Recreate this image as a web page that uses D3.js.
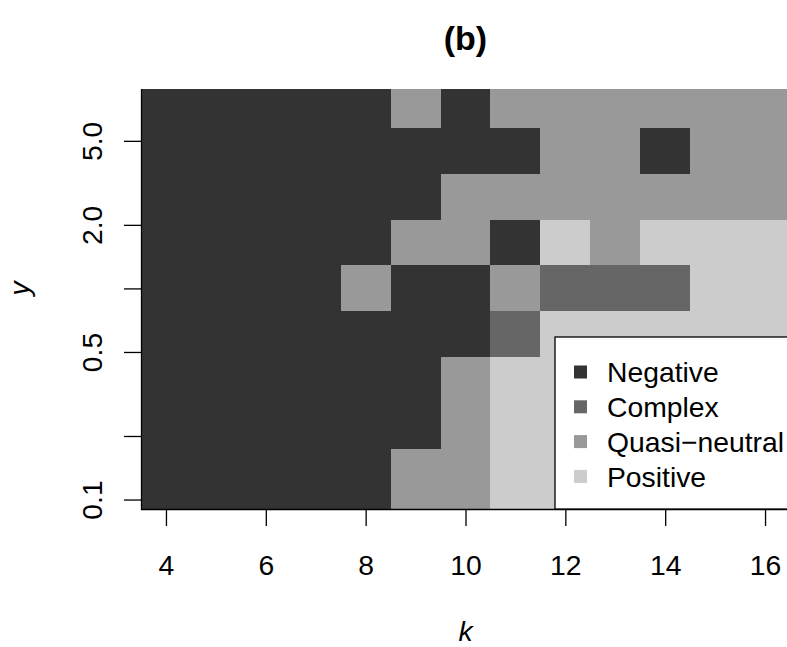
<!DOCTYPE html>
<html>
<head>
<meta charset="utf-8">
<script src="https://cdn.jsdelivr.net/npm/d3@7"></script>
<style>
  body { margin: 0; background: #fff; }
  text { font-family: "Liberation Sans", Arial, sans-serif; }
</style>
</head>
<body>
<div id="chart"></div>
<script>
// k values (columns) and y values (rows, bottom to top)
var kVals = [4, 5, 6, 7, 8, 9, 10, 11, 12, 13, 14, 15, 16];
var yVals = [0.082, 0.135, 0.223, 0.368, 0.607, 1, 1.65, 2.72, 4.48, 7.39];

// outcome per cell, one string per row from top (y = 7.39) to bottom (y = 0.082)
// N = Negative, C = Complex, Q = Quasi-neutral, P = Positive
var outcome = [
  "NNNNNQNQQQQQQ",
  "NNNNNNNNQQNQQ",
  "NNNNNNQQQQQQQ",
  "NNNNNQQNPQPPP",
  "NNNNQNNQCCCPP",
  "NNNNNNNCPPPPP",
  "NNNNNNQPPPPPP",
  "NNNNNNQPPPPPP",
  "NNNNNQQPPPPPP",
  "NNNNNQQPPPPPP"
];

var codes = ["N", "C", "Q", "P"];
var categories = ["Negative", "Complex", "Quasi\u2212neutral", "Positive"];
var greys = ["#333333", "#666666", "#999999", "#cccccc"];

var xTicks = [4, 6, 8, 10, 12, 14, 16];
var yTicks = [0.1, 0.2, 0.5, 1, 2, 5];
var yTickLabels = ["0.1", "", "0.5", "", "2.0", "5.0"];
var yLimits = [0.0902, 8.80];

var W = 787, H = 647;
var margin = {top: 89, left: 141},
    width = 649,
    height = 420;
var fs = 28.3;

var svg = d3.select("#chart").append("svg")
    .attr("width", W)
    .attr("height", H);

svg.append("defs").append("clipPath").attr("id", "plotclip")
  .append("rect")
    .attr("x", 0).attr("y", 0)
    .attr("width", width).attr("height", height);

var g = svg.append("g")
    .attr("transform", "translate(" + margin.left + "," + margin.top + ")");

var x = d3.scaleLinear().domain([3.5, 16.5]).range([0, width]);
var y = d3.scaleLog().domain(yLimits).range([height, 0]);
var fill = d3.scaleOrdinal().domain(codes).range(greys);

// row edges: geometric midpoints between neighbouring y values
function rowEdges(i) {
  var n = yVals.length;
  var lo = i > 0 ? Math.sqrt(yVals[i] * yVals[i - 1]) : yVals[0] * yVals[0] / Math.sqrt(yVals[0] * yVals[1]);
  var hi = i < n - 1 ? Math.sqrt(yVals[i] * yVals[i + 1]) : yVals[n - 1] * yVals[n - 1] / Math.sqrt(yVals[n - 1] * yVals[n - 2]);
  return [lo, hi];
}

var cells = [];
outcome.forEach(function(row, r) {
  var yi = yVals.length - 1 - r;
  row.split("").forEach(function(c, j) {
    cells.push({k: kVals[j], yi: yi, code: c});
  });
});

g.append("g")
    .attr("clip-path", "url(#plotclip)")
  .selectAll("rect")
  .data(cells)
  .enter().append("rect")
    .attr("x", function(d) { return x(d.k - 0.5); })
    .attr("width", function(d) { return x(d.k + 0.5) - x(d.k - 0.5); })
    .attr("y", function(d) { return y(rowEdges(d.yi)[1]); })
    .attr("height", function(d) { var e = rowEdges(d.yi); return y(e[0]) - y(e[1]); })
    .attr("fill", function(d) { return fill(d.code); })
    .attr("shape-rendering", "crispEdges");

// x axis
var xAxis = g.append("g")
    .attr("transform", "translate(0," + height + ")")
    .call(d3.axisBottom(x).tickValues(xTicks).tickSize(17).tickSizeOuter(0).tickPadding(29));
xAxis.select(".domain").remove();
xAxis.selectAll("line").attr("stroke", "#000").attr("stroke-width", 1.3);
xAxis.selectAll("text").attr("font-size", fs).attr("fill", "#000")
    .attr("font-family", "Liberation Sans, Arial, sans-serif");

// y axis with rotated labels
var yAxis = g.append("g")
    .call(d3.axisLeft(y).tickValues(yTicks).tickSize(17).tickSizeOuter(0)
      .tickFormat(function(d, i) { return yTickLabels[i]; }));
yAxis.select(".domain").remove();
yAxis.selectAll("line").attr("stroke", "#000").attr("stroke-width", 1.3);
yAxis.selectAll("text")
    .attr("font-size", fs).attr("fill", "#000")
    .attr("font-family", "Liberation Sans, Arial, sans-serif")
    .attr("text-anchor", "middle")
    .attr("transform", "rotate(-90)")
    .attr("x", 0).attr("y", -39).attr("dy", null);

// L-shaped frame
g.append("path")
    .attr("d", "M0.5,0V" + (height + 0.5) + "H" + width)
    .attr("fill", "none").attr("stroke", "#000").attr("stroke-width", 1.3);

// legend
var leg = g.append("g").attr("transform", "translate(414,248)");
leg.append("rect")
    .attr("x", 0).attr("y", 0)
    .attr("width", width - 414).attr("height", height - 248)
    .attr("fill", "#fff").attr("stroke", "#000").attr("stroke-width", 1.3);
var item = leg.selectAll(".item")
  .data(categories)
  .enter().append("g")
    .attr("class", "item")
    .attr("transform", function(d, i) { return "translate(0," + (35 + i * 34.8) + ")"; });
item.append("rect")
    .attr("x", 19).attr("y", -6.5)
    .attr("width", 13).attr("height", 13)
    .attr("fill", function(d, i) { return greys[i]; });
item.append("text")
    .attr("x", 52).attr("dy", "0.36em")
    .attr("font-size", fs)
    .text(function(d) { return d; });

// titles
svg.append("text")
    .attr("x", margin.left + width / 2).attr("y", 50)
    .attr("text-anchor", "middle")
    .attr("font-size", 34).attr("font-weight", "bold")
    .text("(b)");

svg.append("text")
    .attr("x", margin.left + width / 2).attr("y", 641)
    .attr("text-anchor", "middle")
    .attr("font-size", fs).attr("font-style", "italic")
    .text("k");

svg.append("text")
    .attr("transform", "translate(29," + (margin.top + y(1)) + ") rotate(-90)")
    .attr("text-anchor", "middle")
    .attr("font-size", fs).attr("font-style", "italic")
    .text("y");
</script>
</body>
</html>
